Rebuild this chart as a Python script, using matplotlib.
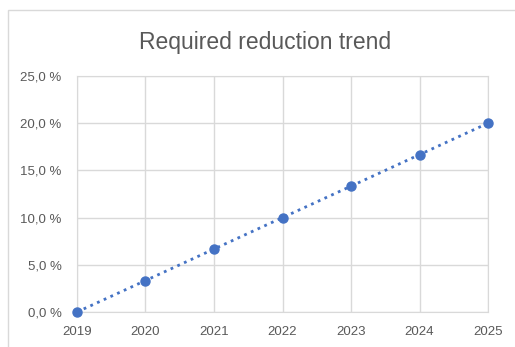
import matplotlib.pyplot as plt
from matplotlib.patches import Rectangle

years = [2019, 2020, 2021, 2022, 2023, 2024, 2025]
reduction = [0.0, 3.33, 6.67, 10.0, 13.33, 16.67, 20.0]
y_ticks = [0, 5, 10, 15, 20, 25]
y_labels = ["0,0 %", "5,0 %", "10,0 %", "15,0 %", "20,0 %", "25,0 %"]

plt.rcParams['font.family'] = ['Liberation Sans', 'DejaVu Sans']
text_color = "#595959"

fig = plt.figure(figsize=(5.15, 3.47), dpi=100)
fig.patches.append(Rectangle((8 / 515, -0.1), 1.2, 1 - 10 / 347 + 0.1,
                             transform=fig.transFigure, fill=False,
                             edgecolor="#d9d9d9", linewidth=1))

ax = fig.add_axes([0.1495, 0.1009, 0.7981, 0.6801])
ax.plot(years, reduction, linestyle=":", linewidth=2, color="#4472c4",
        marker="o", markersize=6.5, zorder=3, clip_on=False)

ax.set_xlim(years[0], years[-1])
ax.set_ylim(0, 25)
ax.set_xticks(years)
ax.set_yticks(y_ticks)
ax.set_yticklabels(y_labels)
ax.grid(True, color="#d9d9d9", linewidth=1)
for s in ax.spines.values():
    s.set_color("#d9d9d9")
ax.tick_params(length=0, colors=text_color, labelsize=9.5)
ax.tick_params(axis="y", pad=11)
ax.tick_params(axis="x", pad=10)

fig.text(0.515, 0.878, "Required reduction trend", ha="center", va="center",
         fontsize=16.5, color=text_color)

fig.savefig("out.png", dpi=100)
